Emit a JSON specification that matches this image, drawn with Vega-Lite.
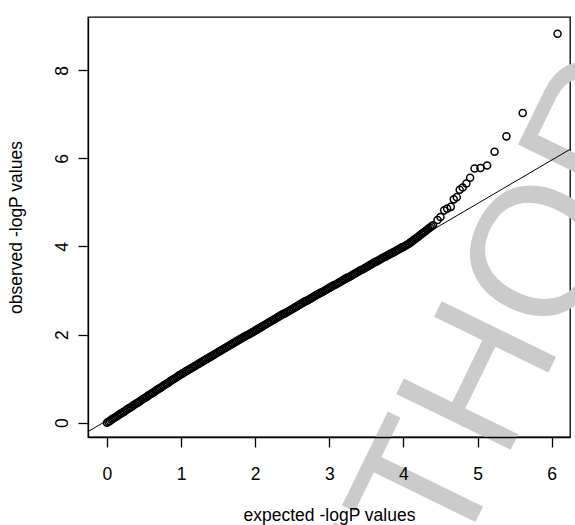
{
  "$schema": "https://vega.github.io/schema/vega-lite/v6.json",
  "width": 482,
  "height": 420,
  "autosize": {"type": "none"},
  "padding": {"left": 88, "top": 17, "right": 5, "bottom": 88},
  "background": "white",
  "config": {
    "font": "Liberation Sans",
    "view": {"stroke": "black", "strokeWidth": 1.3}
  },
  "datasets": {
    "watermark": [{"label": "AUTHOR", "x": 4.8, "y": 0.05}],
    "ref": [{"x": -0.4, "y": -0.344}, {"x": 6.4, "y": 6.354}],
    "pts": [
      {"x":0.00,"y":0.00},{"x":0.02,"y":0.02},{"x":0.04,"y":0.04},{"x":0.06,"y":0.07},{"x":0.08,"y":0.09},{"x":0.10,"y":0.11},{"x":0.12,"y":0.13},{"x":0.14,"y":0.15},{"x":0.16,"y":0.18},{"x":0.18,"y":0.20},
      {"x":0.20,"y":0.22},{"x":0.22,"y":0.24},{"x":0.24,"y":0.26},{"x":0.26,"y":0.29},{"x":0.28,"y":0.31},{"x":0.30,"y":0.33},{"x":0.32,"y":0.35},{"x":0.34,"y":0.37},{"x":0.36,"y":0.40},{"x":0.38,"y":0.42},
      {"x":0.40,"y":0.44},{"x":0.42,"y":0.46},{"x":0.44,"y":0.48},{"x":0.46,"y":0.51},{"x":0.48,"y":0.53},{"x":0.50,"y":0.55},{"x":0.52,"y":0.57},{"x":0.54,"y":0.59},{"x":0.56,"y":0.62},{"x":0.58,"y":0.64},
      {"x":0.60,"y":0.66},{"x":0.62,"y":0.68},{"x":0.64,"y":0.70},{"x":0.66,"y":0.73},{"x":0.68,"y":0.75},{"x":0.70,"y":0.77},{"x":0.72,"y":0.79},{"x":0.74,"y":0.81},{"x":0.76,"y":0.84},{"x":0.78,"y":0.86},
      {"x":0.80,"y":0.88},{"x":0.82,"y":0.90},{"x":0.84,"y":0.92},{"x":0.86,"y":0.95},{"x":0.88,"y":0.97},{"x":0.90,"y":0.99},{"x":0.92,"y":1.01},{"x":0.94,"y":1.03},{"x":0.96,"y":1.06},{"x":0.98,"y":1.08},
      {"x":1.00,"y":1.10},{"x":1.02,"y":1.12},{"x":1.04,"y":1.14},{"x":1.06,"y":1.16},{"x":1.08,"y":1.18},{"x":1.10,"y":1.20},{"x":1.12,"y":1.22},{"x":1.14,"y":1.24},{"x":1.16,"y":1.26},{"x":1.18,"y":1.28},
      {"x":1.20,"y":1.30},{"x":1.22,"y":1.32},{"x":1.24,"y":1.34},{"x":1.26,"y":1.36},{"x":1.28,"y":1.38},{"x":1.30,"y":1.40},{"x":1.32,"y":1.42},{"x":1.34,"y":1.44},{"x":1.36,"y":1.46},{"x":1.38,"y":1.48},
      {"x":1.40,"y":1.50},{"x":1.42,"y":1.52},{"x":1.44,"y":1.54},{"x":1.46,"y":1.56},{"x":1.48,"y":1.58},{"x":1.50,"y":1.60},{"x":1.52,"y":1.62},{"x":1.54,"y":1.64},{"x":1.56,"y":1.66},{"x":1.58,"y":1.68},
      {"x":1.60,"y":1.70},{"x":1.62,"y":1.72},{"x":1.64,"y":1.74},{"x":1.66,"y":1.76},{"x":1.68,"y":1.78},{"x":1.70,"y":1.80},{"x":1.72,"y":1.82},{"x":1.74,"y":1.84},{"x":1.76,"y":1.86},{"x":1.78,"y":1.88},
      {"x":1.80,"y":1.90},{"x":1.82,"y":1.92},{"x":1.84,"y":1.94},{"x":1.86,"y":1.96},{"x":1.88,"y":1.98},{"x":1.90,"y":1.99},{"x":1.92,"y":2.01},{"x":1.94,"y":2.03},{"x":1.96,"y":2.05},{"x":1.98,"y":2.07},
      {"x":2.00,"y":2.09},{"x":2.02,"y":2.11},{"x":2.04,"y":2.13},{"x":2.06,"y":2.15},{"x":2.08,"y":2.17},{"x":2.10,"y":2.19},{"x":2.12,"y":2.21},{"x":2.14,"y":2.23},{"x":2.16,"y":2.25},{"x":2.18,"y":2.27},
      {"x":2.20,"y":2.29},{"x":2.22,"y":2.31},{"x":2.24,"y":2.33},{"x":2.26,"y":2.35},{"x":2.28,"y":2.37},{"x":2.30,"y":2.39},{"x":2.32,"y":2.41},{"x":2.34,"y":2.43},{"x":2.36,"y":2.45},{"x":2.38,"y":2.47},
      {"x":2.40,"y":2.48},{"x":2.42,"y":2.50},{"x":2.44,"y":2.52},{"x":2.46,"y":2.54},{"x":2.48,"y":2.56},{"x":2.50,"y":2.58},{"x":2.52,"y":2.60},{"x":2.54,"y":2.62},{"x":2.56,"y":2.64},{"x":2.58,"y":2.66},
      {"x":2.60,"y":2.68},{"x":2.62,"y":2.70},{"x":2.64,"y":2.72},{"x":2.66,"y":2.74},{"x":2.68,"y":2.76},{"x":2.70,"y":2.77},{"x":2.72,"y":2.79},{"x":2.74,"y":2.81},{"x":2.76,"y":2.83},{"x":2.78,"y":2.85},
      {"x":2.80,"y":2.87},{"x":2.82,"y":2.89},{"x":2.84,"y":2.91},{"x":2.86,"y":2.93},{"x":2.88,"y":2.95},{"x":2.90,"y":2.96},{"x":2.92,"y":2.98},{"x":2.94,"y":3.00},{"x":2.96,"y":3.02},{"x":2.98,"y":3.04},
      {"x":3.00,"y":3.06},{"x":3.02,"y":3.08},{"x":3.04,"y":3.10},{"x":3.06,"y":3.12},{"x":3.08,"y":3.13},{"x":3.10,"y":3.15},{"x":3.12,"y":3.17},{"x":3.14,"y":3.19},{"x":3.16,"y":3.21},{"x":3.18,"y":3.23},
      {"x":3.20,"y":3.25},{"x":3.22,"y":3.27},{"x":3.24,"y":3.29},{"x":3.26,"y":3.30},{"x":3.28,"y":3.32},{"x":3.30,"y":3.34},{"x":3.32,"y":3.36},{"x":3.34,"y":3.38},{"x":3.36,"y":3.40},{"x":3.38,"y":3.42},
      {"x":3.40,"y":3.44},{"x":3.42,"y":3.46},{"x":3.44,"y":3.47},{"x":3.46,"y":3.49},{"x":3.48,"y":3.51},{"x":3.50,"y":3.53},{"x":3.52,"y":3.55},{"x":3.54,"y":3.57},{"x":3.56,"y":3.59},{"x":3.58,"y":3.61},
      {"x":3.60,"y":3.63},{"x":3.62,"y":3.65},{"x":3.64,"y":3.66},{"x":3.66,"y":3.68},{"x":3.68,"y":3.70},{"x":3.70,"y":3.72},{"x":3.72,"y":3.74},{"x":3.74,"y":3.76},{"x":3.76,"y":3.77},{"x":3.78,"y":3.79},
      {"x":3.80,"y":3.81},{"x":3.82,"y":3.83},{"x":3.84,"y":3.85},{"x":3.86,"y":3.86},{"x":3.88,"y":3.88},{"x":3.90,"y":3.90},{"x":3.92,"y":3.92},{"x":3.94,"y":3.94},{"x":3.96,"y":3.96},{"x":3.98,"y":3.98},
      {"x":4.00,"y":3.99},{"x":4.02,"y":4.01},{"x":4.04,"y":4.03},{"x":4.06,"y":4.05},{"x":4.08,"y":4.07},{"x":4.10,"y":4.10},{"x":4.12,"y":4.12},{"x":4.14,"y":4.15},{"x":4.16,"y":4.17},{"x":4.18,"y":4.20},
      {"x":4.20,"y":4.22},{"x":4.22,"y":4.25},{"x":4.24,"y":4.28},{"x":4.26,"y":4.30},{"x":4.28,"y":4.33},{"x":4.30,"y":4.35},{"x":4.32,"y":4.38},{"x":4.34,"y":4.41},{"x":4.36,"y":4.43},{"x":4.38,"y":4.46},
      {"x":4.40,"y":4.48},{"x":4.46,"y":4.60},{"x":4.50,"y":4.67},{"x":4.55,"y":4.82},{"x":4.59,"y":4.86},{"x":4.64,"y":4.90},{"x":4.68,"y":5.07},{"x":4.72,"y":5.12},
      {"x":4.76,"y":5.29},{"x":4.80,"y":5.34},{"x":4.85,"y":5.43},{"x":4.90,"y":5.56},{"x":4.96,"y":5.77},{"x":5.04,"y":5.78},{"x":5.13,"y":5.84},{"x":5.23,"y":6.15},
      {"x":5.39,"y":6.50},{"x":5.61,"y":7.03},{"x":6.08,"y":8.83}
    ]
  },
  "encoding": {
    "x": {
      "field": "x", "type": "quantitative",
      "scale": {"domain": [-0.256, 6.248], "nice": false, "zero": false},
      "axis": {
        "title": "expected -logP values", "values": [0, 1, 2, 3, 4, 5, 6], "format": "d",
        "grid": false, "domain": true, "domainColor": "black", "domainWidth": 1.3,
        "tickColor": "black", "tickWidth": 1.3, "tickSize": 10,
        "labelFontSize": 17.5, "labelColor": "black", "labelPadding": 18, "labelFlush": false, "labelOverlap": false,
        "titleFontSize": 17.5, "titleFontWeight": "normal", "titleColor": "black", "titlePadding": 24,
        "zindex": 1
      }
    },
    "y": {
      "field": "y", "type": "quantitative",
      "scale": {"domain": [-0.325, 9.21], "nice": false, "zero": false},
      "axis": {
        "title": "observed -logP values", "values": [0, 2, 4, 6, 8], "format": "d",
        "grid": false, "domain": true, "domainColor": "black", "domainWidth": 1.3,
        "tickColor": "black", "tickWidth": 1.3, "tickSize": 10,
        "labelFontSize": 17.5, "labelColor": "black", "labelAngle": 270, "labelAlign": "center",
        "labelBaseline": "alphabetic", "labelPadding": 11, "labelFlush": false, "labelOverlap": false,
        "titleFontSize": 17.5, "titleFontWeight": "normal", "titleColor": "black", "titlePadding": 28,
        "zindex": 1
      }
    }
  },
  "layer": [
    {
      "data": {"name": "watermark"},
      "mark": {"type": "text", "angle": -64, "fontSize": 185, "color": "#cbcbcb", "align": "center", "baseline": "middle", "font": "Liberation Sans", "clip": false},
      "encoding": {"text": {"field": "label"}}
    },
    {
      "data": {"name": "ref"},
      "mark": {"type": "line", "color": "black", "strokeWidth": 1, "clip": true}
    },
    {
      "data": {"name": "pts"},
      "mark": {"type": "point", "shape": "circle", "filled": false, "stroke": "black", "strokeWidth": 1.5, "size": 50, "opacity": 1}
    }
  ]
}
